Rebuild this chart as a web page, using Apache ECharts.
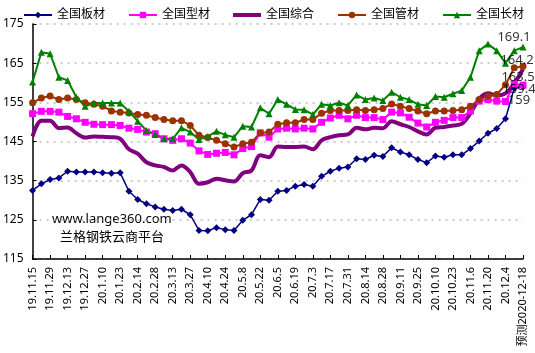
<!DOCTYPE html>
<html>
<head>
<meta charset="utf-8">
<script src="https://cdn.jsdelivr.net/npm/echarts@6/dist/echarts.min.js"></script>
<style>
  html, body { margin: 0; padding: 0; background: #fff; }
  #chart { width: 535px; height: 353px; }
</style>
</head>
<body>
<div id="chart"></div>
<script>
// weekly dates, every other one is shown on the axis
const dates = [
  '19.11.15', '19.11.22', '19.11.29', '19.12.6', '19.12.13', '19.12.20', '19.12.27', '20.1.3',
  '20.1.10', '20.1.17', '20.1.23', '20.2.7', '20.2.14', '20.2.21', '20.2.28', '20.3.6',
  '20.3.13', '20.3.20', '20.3.27', '20.4.3', '20.4.10', '20.4.17', '20.4.24', '20.4.30',
  '20.5.8', '20.5.15', '20.5.22', '20.5.29', '20.6.5', '20.6.12', '20.6.19', '20.6.24',
  '20.7.3', '20.7.10', '20.7.17', '20.7.24', '20.7.31', '20.8.7', '20.8.14', '20.8.21',
  '20.8.28', '20.9.4', '20.9.11', '20.9.18', '20.9.25', '20.9.30', '20.10.10', '20.10.16',
  '20.10.23', '20.10.30', '20.11.6', '20.11.13', '20.11.20', '20.11.27', '20.12.4', '20.12.11',
  '预测2020-12-18'
]

const banCai = [
  132.5, 134.2, 135.3, 135.7, 137.4, 137.2, 137.2, 137.2, 137.0, 136.9, 137.0, 132.3, 130.2, 129.1, 128.3, 127.7,
  127.4, 127.7, 126.3, 122.3, 122.2, 123.0, 122.5, 122.3, 124.9, 126.3, 130.2, 130.0, 132.3, 132.5, 133.6, 134.0,
  133.6, 136.1, 137.4, 138.2, 138.5, 140.6, 140.4, 141.5, 141.2, 143.4, 142.3, 141.6, 140.4, 139.6, 141.3, 141.0,
  141.6, 141.6, 143.2, 145.1, 147.1, 148.3, 150.8, 158.6, 159
]
const xingCai = [
  152.1, 152.7, 152.7, 152.5, 151.4, 150.8, 149.9, 149.4, 149.3, 149.3, 149.1, 148.4, 148.1, 147.4, 147.0, 145.7,
  145.3, 145.7, 144.6, 142.6, 141.7, 142.0, 142.2, 141.6, 143.2, 143.7, 147.2, 146.1, 148.2, 148.4, 148.2, 148.4,
  148.2, 149.9, 151.0, 151.7, 150.8, 151.7, 151.1, 151.1, 150.6, 152.5, 152.3, 151.2, 149.7, 148.7, 149.9, 150.4,
  151.1, 151.1, 152.8, 155.3, 155.7, 155.3, 155.2, 159.7, 159.4
]
const zongHe = [
  146.3, 150.3, 150.3, 148.4, 148.6, 147.1, 146.0, 146.3, 146.2, 146.1, 145.7, 143.0, 141.9, 139.7, 138.9, 138.5,
  137.6, 138.9, 137.2, 134.2, 134.6, 135.5, 135.1, 134.8, 136.9, 137.6, 141.5, 141.0, 143.7, 143.6, 143.6, 143.7,
  143.0, 145.3, 146.1, 146.6, 146.8, 148.5, 148.1, 148.5, 148.4, 150.2, 149.4, 148.7, 147.6, 146.8, 148.5, 148.7,
  149.1, 149.5, 152.2, 155.9, 157.3, 156.8, 157.3, 159.8, 163.5
]
const guanCai = [
  154.9, 156.1, 156.6, 155.7, 156.1, 155.7, 154.9, 154.5, 154.0, 152.8, 152.5, 152.3, 151.9, 151.7, 151.1, 150.6,
  150.3, 150.3, 149.1, 146.6, 146.0, 145.3, 144.4, 143.6, 144.4, 144.8, 147.2, 147.4, 149.4, 149.8, 149.8, 150.6,
  150.6, 152.2, 152.9, 152.9, 152.9, 153.1, 152.9, 153.1, 153.4, 154.6, 154.0, 153.4, 152.8, 152.1, 152.8, 152.8,
  152.9, 153.1, 154.0, 155.7, 156.6, 157.0, 159.5, 163.8, 164.2
]
const changCai = [
  160.2, 167.8, 167.4, 161.4, 160.6, 156.3, 154.0, 154.8, 154.8, 154.8, 154.8, 152.7, 150.2, 147.8, 146.8, 145.7,
  145.7, 148.5, 147.4, 145.5, 146.3, 147.6, 146.7, 146.1, 148.9, 148.7, 153.6, 152.1, 155.7, 154.5, 153.2, 153.1,
  151.9, 154.5, 154.2, 154.9, 154.2, 156.9, 155.7, 156.1, 155.5, 157.6, 156.3, 155.7, 154.5, 154.2, 156.5, 156.3,
  157.2, 158.0, 161.4, 168.2, 169.9, 168.2, 165.0, 168.2, 169.1
]

const font = 'Noto Sans, Noto Sans CJK SC, sans-serif'
const last = dates.length - 1

// value labels of the forecast point, drawn above all lines
const endLabel = (arr, offset) => ({
  value: [dates[last], arr[last]],
  label: { offset }
})

const chart = echarts.init(document.getElementById('chart'))

chart.setOption({
  backgroundColor: '#fff',
  animation: false,
  legend: {
    left: 18,
    top: 4,
    itemGap: 23,
    itemWidth: 28,
    itemHeight: 8,
    textStyle: { color: '#000', fontSize: 12, fontFamily: font },
    data: [
      '全国板材',
      '全国型材',
      { name: '全国综合', icon: 'path://M0,0 L28,0 L28,4 L0,4 Z' },
      '全国管材',
      '全国长材'
    ]
  },
  grid: { left: 30, right: 12, top: 24, bottom: 94 },
  graphic: [
    { type: 'text', left: 52, top: 213, style: { text: 'www.lange360.com', fontSize: 13, fontFamily: font, fill: '#000' } },
    { type: 'text', left: 60, top: 231, style: { text: '兰格钢铁云商平台', fontSize: 13, fontFamily: font, fill: '#000' } }
  ],
  xAxis: {
    type: 'category',
    data: dates,
    boundaryGap: false,
    axisLine: { lineStyle: { color: '#000', width: 1.5 } },
    axisTick: { inside: true, interval: 1, length: 4, lineStyle: { color: '#000' } },
    axisLabel: { interval: 1, rotate: 90, color: '#000', fontSize: 11, fontFamily: font, margin: 8 },
    splitLine: { show: false }
  },
  yAxis: {
    type: 'value',
    min: 115,
    max: 175,
    interval: 10,
    axisLine: { show: true, lineStyle: { color: '#000', width: 1.5 } },
    axisTick: { show: true, inside: true, length: 4, lineStyle: { color: '#000' } },
    axisLabel: { color: '#000', fontSize: 12, fontFamily: font, margin: 9 },
    splitLine: { lineStyle: { color: '#bbb', type: [2, 5], width: 1.5 } }
  },
  series: [
    {
      name: '全国板材',
      type: 'line',
      data: banCai,
      symbol: 'diamond',
      symbolSize: 7,
      showAllSymbol: true,
      color: '#000080',
      lineStyle: { width: 1.5 }
    },
    {
      name: '全国型材',
      type: 'line',
      data: xingCai,
      symbol: 'rect',
      symbolSize: 7,
      showAllSymbol: true,
      color: '#ff00ff',
      lineStyle: { width: 2 }
    },
    {
      name: '全国综合',
      type: 'line',
      data: zongHe,
      symbol: 'none',
      smooth: 0.35,
      color: '#800080',
      lineStyle: { width: 4 }
    },
    {
      name: '全国管材',
      type: 'line',
      data: guanCai,
      symbol: 'circle',
      symbolSize: 7,
      showAllSymbol: true,
      color: '#993300',
      lineStyle: { width: 2 }
    },
    {
      name: '全国长材',
      type: 'line',
      data: changCai,
      symbol: 'triangle',
      symbolSize: 7,
      showAllSymbol: true,
      color: '#008000',
      lineStyle: { width: 2 }
    },
    {
      name: 'labels',
      type: 'scatter',
      z: 10,
      symbolSize: 0,
      silent: true,
      label: {
        show: true,
        position: 'inside',
        color: '#000',
        fontSize: 13,
        fontFamily: font,
        formatter: p => p.value[1]
      },
      data: [
        endLabel(changCai, [-9, -10]),
        endLabel(guanCai, [-6, -6]),
        endLabel(zongHe, [-5, 8]),
        endLabel(xingCai, [-4, 4]),
        endLabel(banCai, [-4, 14])
      ]
    }
  ]
})

window.addEventListener('resize', () => chart.resize())
</script>
</body>
</html>
